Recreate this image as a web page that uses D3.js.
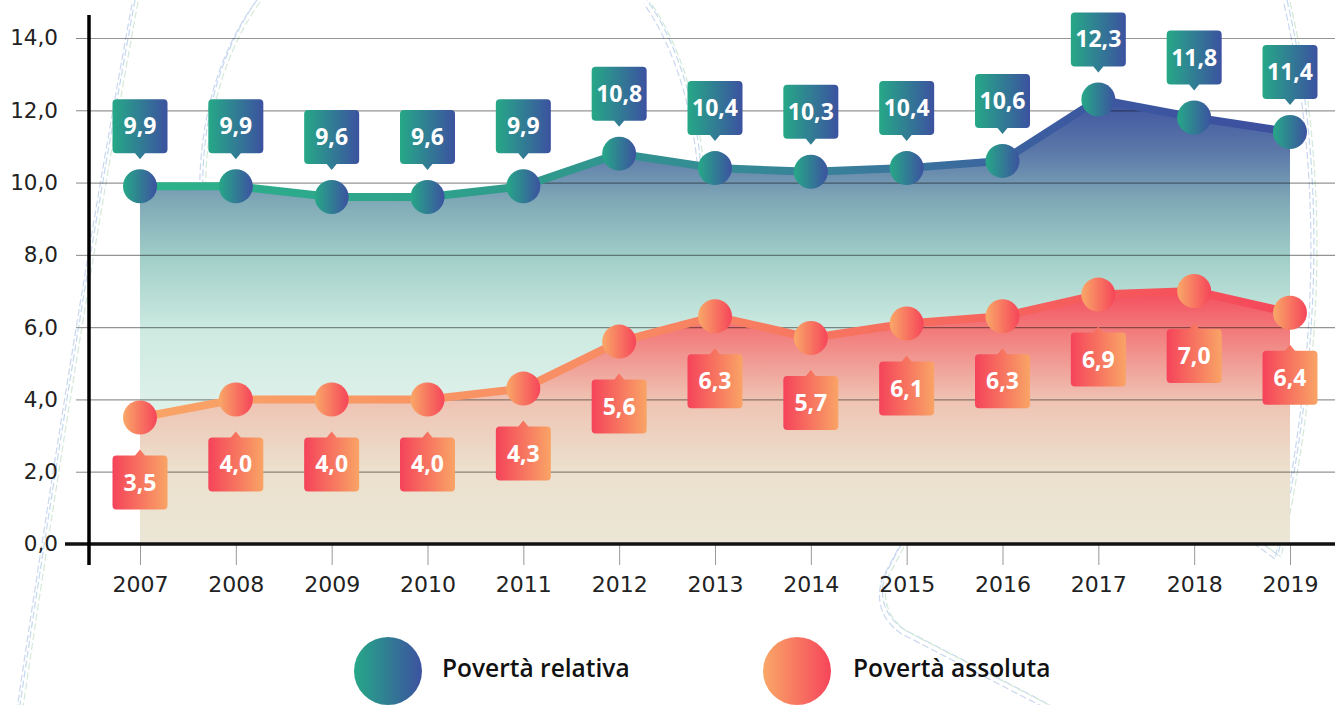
<!DOCTYPE html>
<html>
<head>
<meta charset="utf-8">
<script src="https://cdn.jsdelivr.net/npm/d3@7"></script>
<style>
  body { margin: 0; background: #fff; }
  svg { display: block; font-family: "Open Sans", sans-serif; }
</style>
</head>
<body>
<div id="chart"></div>
<script>
//------------------------------------------------------------------------ Data
var years = ["2007", "2008", "2009", "2010", "2011", "2012", "2013", "2014", "2015", "2016", "2017", "2018", "2019"];
var relativa = [9.9, 9.9, 9.6, 9.6, 9.9, 10.8, 10.4, 10.3, 10.4, 10.6, 12.3, 11.8, 11.4];
var assoluta = [3.5, 4.0, 4.0, 4.0, 4.3, 5.6, 6.3, 5.7, 6.1, 6.3, 6.9, 7.0, 6.4];
var yTicks = [0, 2, 4, 6, 8, 10, 12, 14];
var legendLabels = ["Povertà relativa", "Povertà assoluta"];

//------------------------------------------------------------------------ Variables
var W = 1335, H = 705;
var axisX = 89, right = 1335;

var locale = d3.formatLocale({decimal: ",", thousands: ".", grouping: [3], currency: ["", "€"]});
var fmt = locale.format(".1f");

var x = d3.scalePoint().domain(years).range([140, 1290]);
var y = d3.scaleLinear().domain([0, 14]).range([544, 38]);

//------------------------------------------------------------------------ Functions
//horizontal gradient helper
function hGrad(defs, id, stops, units){
  var g = defs.append("linearGradient").attr("id", id);
  if (units) {
    g.attr("gradientUnits", "userSpaceOnUse").attr("x1", units[0]).attr("x2", units[1]).attr("y1", 0).attr("y2", 0);
  } else {
    g.attr("x1", "0%").attr("x2", "100%").attr("y1", "0%").attr("y2", "0%");
  }
  stops.forEach(function(s){ g.append("stop").attr("offset", s[0]).attr("stop-color", s[1]); });
}

//vertical gradient in pixel space
function vGrad(defs, id, stops){
  var g = defs.append("linearGradient").attr("id", id)
    .attr("gradientUnits", "userSpaceOnUse")
    .attr("x1", 0).attr("x2", 0).attr("y1", 0).attr("y2", H);
  stops.forEach(function(s){ g.append("stop").attr("offset", s[0] / H).attr("stop-color", s[1]); });
}

//label box with a small pointer (up = pointer on top)
function labelPath(cx, top, w, h, r, up){
  var l = cx - w/2, rr = l + w, b = top + h, t = 6, tw = 5;
  var p = "M" + (l + r) + "," + top;
  if (up) p += "L" + (cx - tw) + "," + top + "L" + cx + "," + (top - t) + "L" + (cx + tw) + "," + top;
  p += "L" + (rr - r) + "," + top + "Q" + rr + "," + top + " " + rr + "," + (top + r);
  p += "L" + rr + "," + (b - r) + "Q" + rr + "," + b + " " + (rr - r) + "," + b;
  if (!up) p += "L" + (cx + tw) + "," + b + "L" + cx + "," + (b + t) + "L" + (cx - tw) + "," + b;
  p += "L" + (l + r) + "," + b + "Q" + l + "," + b + " " + l + "," + (b - r);
  p += "L" + l + "," + (top + r) + "Q" + l + "," + top + " " + (l + r) + "," + top + "Z";
  return p;
}

//------------------------------------------------------------------------ SVG
var svg = d3.select("#chart").append("svg").attr("width", W).attr("height", H);
var defs = svg.append("defs");

hGrad(defs, "lineRel", [[0, "#2bb38a"], [0.35, "#2f9a8c"], [0.6, "#38819a"], [0.8, "#3c5aa0"], [1, "#3d4f9f"]], [140, 1290]);
hGrad(defs, "lineAbs", [[0, "#f9a466"], [0.4, "#f88c63"], [0.7, "#f6695e"], [1, "#f5475a"]], [140, 1290]);
hGrad(defs, "dotRel", [[0, "#26a887"], [1, "#3c52a0"]]);
hGrad(defs, "dotAbs", [[0, "#f9a868"], [1, "#f6455a"]]);
hGrad(defs, "boxAbs", [[0, "#f5435a"], [1, "#f9a466"]]);
vGrad(defs, "areaRel", [[95, "#3d52a0"], [150, "#5a77a8"], [200, "#7fa8b6"], [260, "#a2d0c9"], [330, "#cdeae1"], [430, "#e3f3ec"]]);
vGrad(defs, "areaAbs", [[285, "#f4475a"], [330, "#f27a7a"], [400, "#efc3b3"], [470, "#ece0cd"], [544, "#ebe6d6"]]);

//------------------------------------------------------------------------ Background sketch
var decor = svg.append("g").attr("fill", "none").attr("opacity", 0.6);
var decorPaths = [
  "M257,0 C150,150 210,420 360,480 C470,520 640,470 690,300 C720,180 690,60 647,0",
  "M135,0 Q80,300 20,705",
  "M1287,0 Q1345,250 1278,555 L1030,372 Q1000,355 978,400 L885,575 Q875,610 905,630 L1050,705"
];
[["#9ec2e6", 0, 0], ["#b8dcc0", 3, 2], ["#a9bfe6", -3, 4]].forEach(function(c){
  decor.selectAll(null).data(decorPaths).enter().append("path")
    .attr("d", function(d){ return d; })
    .attr("transform", "translate(" + c[1] + "," + c[2] + ")")
    .attr("stroke", c[0]).attr("stroke-width", 1.2).attr("stroke-dasharray", "7,3");
});

//------------------------------------------------------------------------ Areas
var area = function(vals){
  return d3.area().x(function(d, i){ return x(years[i]); }).y0(y(0)).y1(function(d){ return y(d); })(vals);
};
svg.append("path").attr("d", area(relativa)).attr("fill", "url(#areaRel)");
svg.append("path").attr("d", area(assoluta)).attr("fill", "url(#areaAbs)");

//------------------------------------------------------------------------ Grid and axes
var grid = svg.append("g").attr("transform", "translate(" + axisX + ",0)")
  .call(d3.axisRight(y).tickValues(yTicks).tickSize(right - axisX).tickFormat(""));
grid.select(".domain").remove();
grid.selectAll("line").attr("stroke", "rgba(0,0,0,0.42)").attr("stroke-width", 1.2);

var yAxis = svg.append("g").attr("transform", "translate(" + axisX + ",0)")
  .call(d3.axisLeft(y).tickValues(yTicks).tickSize(13).tickPadding(18).tickFormat(fmt));
yAxis.select(".domain").remove();
yAxis.selectAll("line").attr("stroke", "#888");
yAxis.selectAll("text").attr("font-size", 21.5).attr("fill", "#222").attr("font-family", "DejaVu Sans");

var xAxis = svg.append("g").attr("transform", "translate(0," + y(0) + ")")
  .call(d3.axisBottom(x).tickSize(21).tickPadding(11));
xAxis.select(".domain").remove();
xAxis.selectAll("line").attr("stroke", "#999");
xAxis.selectAll("text").attr("font-size", 22).attr("fill", "#222").attr("font-family", "DejaVu Sans");

svg.append("line").attr("x1", 65).attr("x2", right).attr("y1", y(0)).attr("y2", y(0))
  .attr("stroke", "#111").attr("stroke-width", 3.5);
svg.append("line").attr("x1", axisX).attr("x2", axisX).attr("y1", 15).attr("y2", 565)
  .attr("stroke", "#000").attr("stroke-width", 3.5);

//------------------------------------------------------------------------ Lines
var line = d3.line().x(function(d, i){ return x(years[i]); }).y(function(d){ return y(d); });
svg.append("path").attr("d", line(relativa)).attr("fill", "none")
  .attr("stroke", "url(#lineRel)").attr("stroke-width", 8).attr("stroke-linejoin", "round");
svg.append("path").attr("d", line(assoluta)).attr("fill", "none")
  .attr("stroke", "url(#lineAbs)").attr("stroke-width", 8).attr("stroke-linejoin", "round");

//------------------------------------------------------------------------ Dots and labels
function drawSeries(vals, dotFill, boxFill, above){
  var g = svg.append("g");
  g.selectAll("circle").data(vals).enter().append("circle")
    .attr("cx", function(d, i){ return x(years[i]); })
    .attr("cy", function(d){ return y(d); })
    .attr("r", 17).attr("fill", dotFill);

  var lab = g.selectAll(".lab").data(vals).enter().append("g").attr("class", "lab");
  lab.append("path").attr("d", function(d, i){
      var cx = x(years[i]), top = above ? y(d) - 87 : y(d) + 38;
      return labelPath(cx, top, 55, 54, 4, !above);
    }).attr("fill", boxFill);
  lab.append("text")
    .attr("x", function(d, i){ return x(years[i]); })
    .attr("y", function(d){ return above ? y(d) - 60 : y(d) + 65; })
    .attr("dy", "0.35em").attr("text-anchor", "middle")
    .attr("font-size", 23).attr("font-weight", 700).attr("fill", "#fff")
    .text(function(d){ return fmt(d); });
}
drawSeries(relativa, "url(#dotRel)", "url(#dotRel)", true);
drawSeries(assoluta, "url(#dotAbs)", "url(#boxAbs)", false);

//------------------------------------------------------------------------ Legend
var legX = [388, 797], legText = [442, 853], legFill = ["url(#dotRel)", "url(#dotAbs)"];
var leg = svg.selectAll(".leg").data(legendLabels).enter().append("g").attr("class", "leg");
leg.append("ellipse").attr("cx", function(d, i){ return legX[i]; }).attr("cy", 671)
  .attr("rx", 34).attr("ry", 34).attr("fill", function(d, i){ return legFill[i]; });
leg.append("text").attr("x", function(d, i){ return legText[i]; }).attr("y", 677)
  .attr("font-size", 24.5).attr("font-weight", 600).attr("fill", "#111")
  .text(function(d){ return d; });
</script>
</body>
</html>
